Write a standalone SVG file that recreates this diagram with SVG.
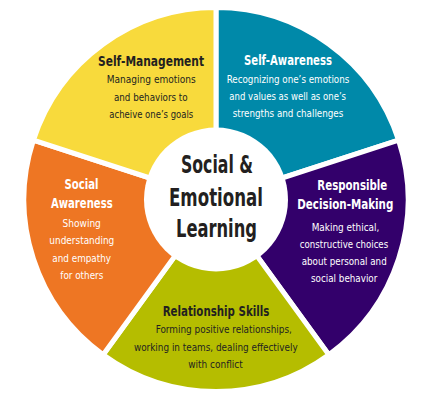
<svg xmlns="http://www.w3.org/2000/svg" width="432" height="412" viewBox="0 0 432 412">
<style>
.seg{stroke:#fff;stroke-width:5;stroke-linejoin:miter}
text{font-family:"Liberation Sans Narrow","DejaVu Sans Condensed","Liberation Sans",sans-serif;text-anchor:middle}
.t{font-size:14.5px;font-weight:bold}
.d{font-size:11.2px}
.c{font-size:25px;font-weight:bold;fill:#231f20}
.dk{fill:#231f20}
.wh{fill:#fff}
</style>
<rect width="432" height="412" fill="#fff"/>
<g id="self-awareness">
<path class="seg" fill="#0089a9" d="M216,199.5 L216,7.5 A192,192 0 0 1 398.603,140.169 Z"/>
<text class="t wh" x="288" y="65.3" textLength="88" lengthAdjust="spacingAndGlyphs">Self-Awareness</text>
<text class="d wh" x="288" y="82.7" textLength="122.7" lengthAdjust="spacingAndGlyphs">Recognizing one’s emotions</text>
<text class="d wh" x="287.7" y="100" textLength="116.7" lengthAdjust="spacingAndGlyphs">and values as well as one’s</text>
<text class="d wh" x="288" y="116.7" textLength="110.7" lengthAdjust="spacingAndGlyphs">strengths and challenges</text>
</g>
<g id="responsible-decision-making">
<path class="seg" fill="#33006b" d="M216,199.5 L398.603,140.169 A192,192 0 0 1 328.855,354.831 Z"/>
<text class="t wh" x="352.3" y="190" textLength="70" lengthAdjust="spacingAndGlyphs">Responsible</text>
<text class="t wh" x="345.3" y="209.3" textLength="96" lengthAdjust="spacingAndGlyphs">Decision-Making</text>
<text class="d wh" x="345.5" y="231" textLength="67.6" lengthAdjust="spacingAndGlyphs">Making ethical,</text>
<text class="d wh" x="344" y="247.7" textLength="88.3" lengthAdjust="spacingAndGlyphs">constructive choices</text>
<text class="d wh" x="344.2" y="265" textLength="85" lengthAdjust="spacingAndGlyphs">about personal and</text>
<text class="d wh" x="344.2" y="282" textLength="66.3" lengthAdjust="spacingAndGlyphs">social behavior</text>
</g>
<g id="relationship-skills">
<path class="seg" fill="#b5bd00" d="M216,199.5 L328.855,354.831 A192,192 0 0 1 103.145,354.831 Z"/>
<text class="t dk" x="216" y="316" textLength="106.7" lengthAdjust="spacingAndGlyphs">Relationship Skills</text>
<text class="d dk" x="223.8" y="333.3" textLength="136.3" lengthAdjust="spacingAndGlyphs">Forming positive relationships,</text>
<text class="d dk" x="215.8" y="351" textLength="163.7" lengthAdjust="spacingAndGlyphs">working in teams, dealing effectively</text>
<text class="d dk" x="215.5" y="367.7" textLength="54.4" lengthAdjust="spacingAndGlyphs">with conflict</text>
</g>
<g id="social-awareness">
<path class="seg" fill="#ee7623" d="M216,199.5 L103.145,354.831 A192,192 0 0 1 33.397,140.169 Z"/>
<text class="t wh" x="81.5" y="189.3" textLength="34" lengthAdjust="spacingAndGlyphs">Social</text>
<text class="t wh" x="81.8" y="208.3" textLength="61.7" lengthAdjust="spacingAndGlyphs">Awareness</text>
<text class="d wh" x="81.7" y="227.2" textLength="38.3" lengthAdjust="spacingAndGlyphs">Showing</text>
<text class="d wh" x="81.8" y="244.3" textLength="65" lengthAdjust="spacingAndGlyphs">understanding</text>
<text class="d wh" x="81.7" y="262" textLength="58.7" lengthAdjust="spacingAndGlyphs">and empathy</text>
<text class="d wh" x="81.8" y="278.7" textLength="43" lengthAdjust="spacingAndGlyphs">for others</text>
</g>
<g id="self-management">
<path class="seg" fill="#f8da3c" d="M216,199.5 L33.397,140.169 A192,192 0 0 1 216,7.5 Z"/>
<text class="t dk" x="151" y="65.5" textLength="106" lengthAdjust="spacingAndGlyphs">Self-Management</text>
<text class="d dk" x="151.3" y="83" textLength="89" lengthAdjust="spacingAndGlyphs">Managing emotions</text>
<text class="d dk" x="150.8" y="100.5" textLength="73.7" lengthAdjust="spacingAndGlyphs">and behaviors to</text>
<text class="d dk" x="151.3" y="117.5" textLength="84" lengthAdjust="spacingAndGlyphs">acheive one’s goals</text>
</g>
<g id="center">
<circle cx="216" cy="199.5" r="72" fill="#fff"/>
<text class="c" x="217" y="173.3" textLength="72" lengthAdjust="spacingAndGlyphs">Social &amp;</text>
<text class="c" x="216" y="206" textLength="94" lengthAdjust="spacingAndGlyphs">Emotional</text>
<text class="c" x="216.5" y="237" textLength="81" lengthAdjust="spacingAndGlyphs">Learning</text>
</g>
</svg>
